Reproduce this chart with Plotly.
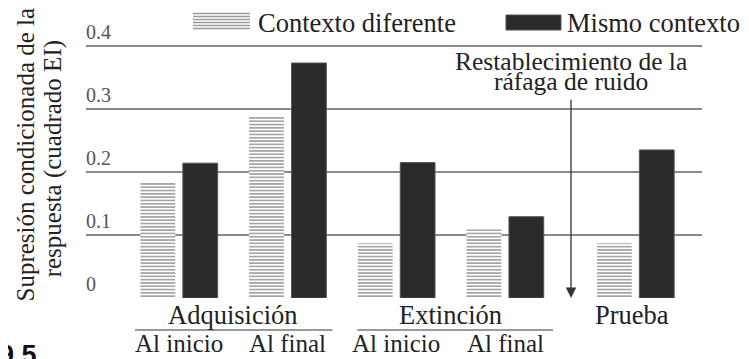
import plotly.graph_objects as go

# ---- data ----
x_pos = [0, 1, 2, 3, 4.2]
sub_labels = ["Al inicio", "Al final", "Al inicio", "Al final"]
sub_x = [0, 1, 2, 3]
group_labels = ["Adquisición", "Extinción", "Prueba"]
group_x = [0.5, 2.5, 4.17]
diferente = [0.183, 0.288, 0.087, 0.109, 0.087]
mismo = [0.214, 0.373, 0.215, 0.129, 0.235]
series_names = ["Contexto diferente", "Mismo contexto"]
y_ticks = [0, 0.1, 0.2, 0.3, 0.4]
y_ticktext = ["0", "0.1", "0.2", "0.3", "0.4"]
ytitle_lines = ["Supresión condicionada de la", "respuesta (cuadrado EI)"]
note_lines = ["Restablecimiento de la", "ráfaga de ruido"]
note_x = 3.606
note_arrow_top = 0.317

SERIF = "Liberation Serif, Times New Roman, serif"
TXT = "#222222"
PH = 284.0  # plot height in px (for paper-coordinate placement)


def py(page_y):
    return (298.0 - page_y) / PH


fig = go.Figure()
fig.add_trace(go.Bar(
    x=x_pos, y=diferente, name=series_names[0],
    width=0.32, offset=-0.355,
    marker=dict(color="white", line=dict(width=0),
                pattern=dict(shape="-", fgcolor="#9a9a9a", bgcolor="white",
                             size=3.3, solidity=0.45, fillmode="replace")),
    showlegend=False,
))
fig.add_trace(go.Bar(
    x=x_pos, y=mismo, name=series_names[1],
    width=0.32, offset=0.035,
    marker=dict(color="#2a2a2a", line=dict(width=1, color="#555555")),
    showlegend=False,
))

annotations = []
shapes = []

# y-axis title (two lines)
for txt, xp, yp in zip(ytitle_lines, [-0.0998, -0.053], [py(155), py(159)]):
    annotations.append(dict(text=txt, xref="paper", yref="paper", x=xp, y=yp,
                            xanchor="center", yanchor="middle", textangle=-90,
                            showarrow=False, font=dict(family=SERIF, size=25, color=TXT)))

# group labels
for txt, gx in zip(group_labels, group_x):
    annotations.append(dict(text=txt, xref="x", yref="paper", x=gx, y=py(315),
                            xanchor="center", yanchor="middle", showarrow=False,
                            font=dict(family=SERIF, size=26.5, color=TXT)))
# sub labels
for txt, sx in zip(sub_labels, sub_x):
    annotations.append(dict(text=txt, xref="x", yref="paper", x=sx, y=py(343),
                            xanchor="center", yanchor="middle", showarrow=False,
                            font=dict(family=SERIF, size=25, color=TXT)))
# underlines under group labels
for x0, x1 in [(-0.405, 1.41), (1.64, 3.44)]:
    shapes.append(dict(type="line", xref="x", yref="paper", x0=x0, x1=x1,
                       y0=py(330), y1=py(330), line=dict(color="#777777", width=1.5)))

# note text + arrow
for txt, yv in zip(note_lines, [0.375, 0.344]):
    annotations.append(dict(text=txt, xref="x", yref="y", x=note_x, y=yv,
                            xanchor="center", yanchor="middle", showarrow=False,
                            font=dict(family=SERIF, size=25.5, color=TXT)))
annotations.append(dict(text="", xref="x", yref="y", x=note_x, y=0,
                        axref="x", ayref="y", ax=note_x, ay=note_arrow_top,
                        showarrow=True, arrowhead=2, arrowsize=1.6, arrowwidth=1.3,
                        arrowcolor="#333333", standoff=0, startstandoff=0))

# manual legend
ppx = 1 / PH
for k in range(6):
    yy = py(30) + (1.5 + 3 * k) * ppx
    shapes.append(dict(type="line", xref="paper", yref="paper", x0=0.1737, x1=0.2662,
                       y0=yy, y1=yy, line=dict(color="#9a9a9a", width=1.5)))
shapes.append(dict(type="rect", xref="paper", yref="paper", x0=0.6818, x1=0.7711,
                   y0=py(30), y1=py(15), fillcolor="#2a2a2a",
                   line=dict(color="#555555", width=1)))
for txt, lx in zip(series_names, [0.276, 0.777]):
    annotations.append(dict(text=txt, xref="paper", yref="paper", x=lx, y=py(23),
                            xanchor="left", yanchor="middle", showarrow=False,
                            font=dict(family=SERIF, size=26.5, color=TXT)))

# figure number fragment
annotations.append(dict(text="<b>9.5</b>", xref="paper", yref="paper", x=-0.1445, y=py(338),
                        xanchor="left", yanchor="top", showarrow=False,
                        font=dict(family="Liberation Sans, Arial, sans-serif", size=27, color="#111111")))

fig.update_layout(
    width=741, height=351,
    margin=dict(l=78, r=47, t=6, b=61),
    paper_bgcolor="white", plot_bgcolor="white",
    barmode="overlay",
    annotations=annotations, shapes=shapes,
    xaxis=dict(range=[-0.856, 4.811], showticklabels=False, showgrid=False,
               zeroline=False, showline=False, ticks=""),
    yaxis=dict(range=[0, 0.4508], tickvals=y_ticks, ticktext=y_ticktext,
               ticklabelposition="inside top", ticklabelstandoff=-3,
               showgrid=True, gridcolor="#8a8a8a",
               gridwidth=1.8, zeroline=False, showline=False, ticks="",
               tickfont=dict(family=SERIF, size=20, color="#555555")),
)
fig.write_html("out.html")
